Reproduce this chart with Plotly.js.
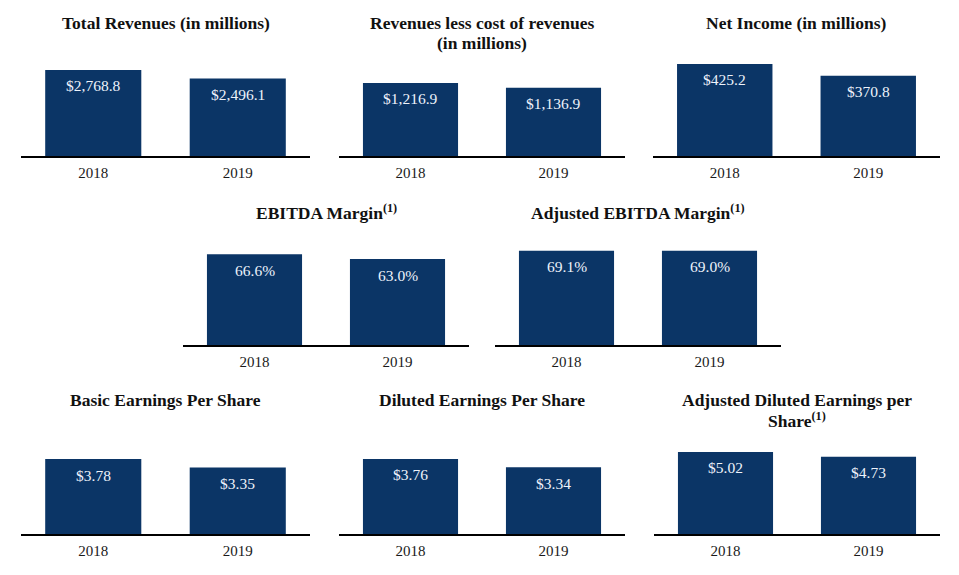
<!DOCTYPE html>
<html>
<head>
<meta charset="utf-8">
<script src="https://cdn.plot.ly/plotly-3.0.1.min.js"></script>
<style>
  html, body { margin: 0; padding: 0; background: #ffffff; }
  #chart { width: 959px; height: 575px; }
</style>
</head>
<body>
<div id="chart"></div>
<script>
// ---- Data ----
const years = ['2018', '2019'];
const totalRevenues = [2768.8, 2496.1];
const revenuesLessCost = [1216.9, 1136.9];
const netIncome = [425.2, 370.8];
const ebitdaMargin = [66.6, 63.0];
const adjustedEbitdaMargin = [69.1, 69.0];
const basicEps = [3.78, 3.35];
const dilutedEps = [3.76, 3.34];
const adjustedDilutedEps = [5.02, 4.73];

const panelTitles = [
  'Total Revenues (in millions)',
  'Revenues less cost of revenues<br>(in millions)',
  'Net Income (in millions)',
  'EBITDA Margin<sup>(1)</sup>',
  'Adjusted EBITDA Margin<sup>(1)</sup>',
  'Basic Earnings Per Share',
  'Diluted Earnings Per Share',
  'Adjusted Diluted Earnings per<br>Share<sup>(1)</sup>'
];

const seriesList = [totalRevenues, revenuesLessCost, netIncome, ebitdaMargin,
  adjustedEbitdaMargin, basicEps, dilutedEps, adjustedDilutedEps];

// ---- Formatting ----
function money1(v) { return '$' + v.toLocaleString('en-US', {minimumFractionDigits: 1, maximumFractionDigits: 1}); }
function pct1(v) { return v.toFixed(1) + '%'; }
function money2(v) { return '$' + v.toFixed(2); }
const formats = [money1, money1, money1, pct1, pct1, money2, money2, money2];

// ---- Layout geometry (pixels in a 959x575 page) ----
const W = 959, H = 575;
const rows = [
  {top: 56, bottom: 156, titleY: 23},
  {top: 245, bottom: 345, titleY: 212},
  {top: 434, bottom: 534, titleY: 400}
];
const panels = [
  {x0: 21,  x1: 310, row: 0, ymax: 3219},
  {x0: 339, x1: 625, row: 0, ymax: 1667},
  {x0: 653, x1: 940, row: 0, ymax: 462},
  {x0: 183, x1: 469, row: 1, ymax: 73.3},
  {x0: 495, x1: 781, row: 1, ymax: 73.3},
  {x0: 21,  x1: 310, row: 2, ymax: 5.04},
  {x0: 339, x1: 625, row: 2, ymax: 5.01},
  {x0: 654, x1: 940, row: 2, ymax: 6.12}
];

const barColor = '#0b3566';
const serif = 'Liberation Serif, Times New Roman, serif';
const titleLineGap = 20;

const traces = [];
const layout = {
  width: W, height: H,
  margin: {l: 0, r: 0, t: 0, b: 0},
  paper_bgcolor: '#ffffff',
  plot_bgcolor: 'rgba(0,0,0,0)',
  showlegend: false,
  bargap: 0.335,
  annotations: []
};

panels.forEach((p, k) => {
  const n = k + 1;
  const xa = 'xaxis' + (n === 1 ? '' : n);
  const ya = 'yaxis' + (n === 1 ? '' : n);
  const xr = 'x' + (n === 1 ? '' : n);
  const yr = 'y' + (n === 1 ? '' : n);
  const r = rows[p.row];
  const vals = seriesList[k];

  traces.push({
    type: 'bar',
    x: years,
    y: vals,
    xaxis: xr, yaxis: yr,
    marker: {color: barColor, line: {width: 0}},
    hoverinfo: 'skip'
  });

  layout[xa] = {
    domain: [p.x0 / W, p.x1 / W],
    anchor: yr,
    type: 'category',
    showline: true, linecolor: '#000000', linewidth: 2,
    showgrid: false, zeroline: false,
    ticks: 'outside', ticklen: 2, tickcolor: 'rgba(0,0,0,0)',
    tickfont: {family: serif, size: 15, color: '#1a1a1a'},
    fixedrange: true
  };
  layout[ya] = {
    domain: [1 - r.bottom / H, 1 - r.top / H],
    anchor: xr,
    range: [0, p.ymax],
    visible: false,
    fixedrange: true
  };

  // panel title, one annotation per line
  panelTitles[k].split('<br>').forEach((line, j) => {
    layout.annotations.push({
      xref: 'paper', yref: 'paper',
      x: ((p.x0 + p.x1) / 2) / W,
      y: 1 - (r.titleY + j * titleLineGap) / H,
      xanchor: 'center', yanchor: 'middle',
      text: '<b>' + line + '</b>',
      showarrow: false,
      align: 'center',
      font: {family: serif, size: 17.5, color: '#111111'}
    });
  });

  // value labels inside bars near their tops
  vals.forEach((v, i) => {
    layout.annotations.push({
      xref: xr, yref: yr,
      x: i, y: v,
      xanchor: 'center', yanchor: 'middle',
      yshift: -16,
      text: formats[k](v),
      showarrow: false,
      font: {family: serif, size: 15.5, color: '#eef3fb'}
    });
  });
});

Plotly.newPlot('chart', traces, layout, {displayModeBar: false, staticPlot: true});
</script>
</body>
</html>
